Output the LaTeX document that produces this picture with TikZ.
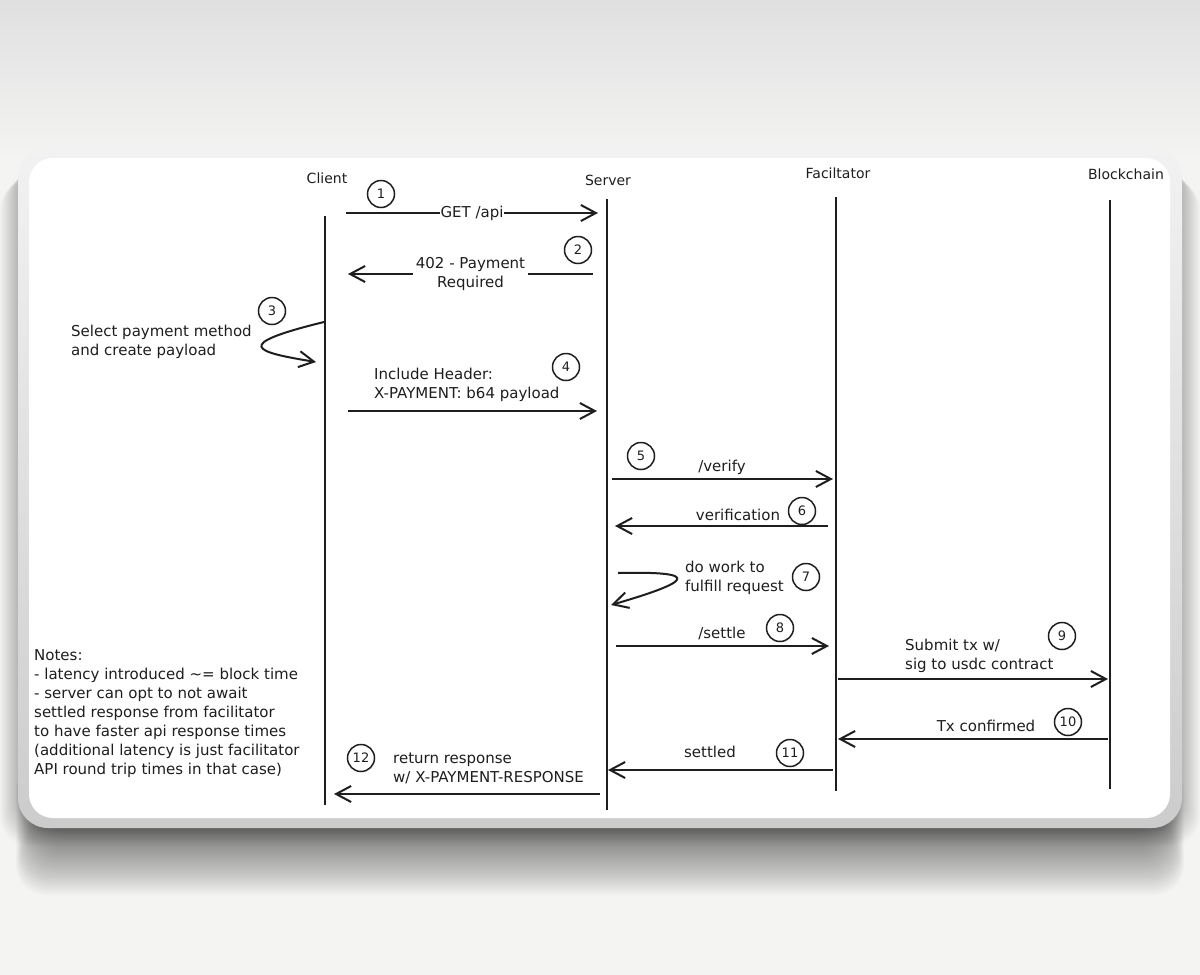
\documentclass[tikz,border=0pt]{standalone}
\usepackage{fontspec}
\setmainfont{DejaVu Sans}
\usepackage{xcolor}
\definecolor{inkblack}{RGB}{30,30,30}
\definecolor{bgtop}{RGB}{224,224,224}
\definecolor{bgbottom}{RGB}{244,244,243}
\definecolor{rimtop}{RGB}{242,242,242}
\definecolor{rimbottom}{RGB}{204,204,204}
\usepackage{tikz}
\usetikzlibrary{arrows.meta, positioning}

\tikzset{
  lifeline/.style={line width=2pt, inkblack},
  msg/.style={line width=2pt, inkblack, -{Straight Barb[length=15pt, width=16pt]}},
  stepnum/.style={circle, draw=inkblack, line width=1.5pt, minimum size=27pt,
                  inner sep=0pt, text=inkblack, font=\fontsize{13}{13}\selectfont},
  actor/.style={text=inkblack, inner sep=0pt, font=\fontsize{14}{14}\selectfont},
  lbl/.style={text=inkblack, inner sep=0pt, align=left, font=\fontsize{15}{19}\selectfont}
}

\begin{document}
\begin{tikzpicture}[x=1pt, y=-1pt]
  \useasboundingbox (0,0) rectangle (1200,975);
  % background and card
  \fill[bgbottom] (0,0) rectangle (1200,975);
  \shade[top color=bgtop, bottom color=bgbottom] (0,0) rectangle (1200,160);
  \foreach \i in {1,...,20}
    \fill[black, opacity=0.012, rounded corners=30]
      (18-\i*0.9,160+\i) rectangle (1182+\i*0.9,826+\i);
  \foreach \i in {1,...,30}
    \fill[black, opacity=0.02, rounded corners=30]
      (40-\i*0.8,760) rectangle (1160+\i*0.8,826+\i*2.3);
  \shade[top color=rimtop, bottom color=rimbottom, rounded corners=30]
    (18,147) rectangle (1182,828);
  \fill[white, rounded corners=24] (29,158) rectangle (1170,818);

  % actors
  \node[actor] (hClient) at (327,178) {Client};
  \node[actor] (hServer) at (608,180) {Server};
  \node[actor] (hFacil)  at (838,173) {Faciltator};
  \node[actor] (hChain)  at (1126,174) {Blockchain};

  \coordinate (cTop) at (325,216);  \coordinate (cBot) at (325,805);
  \coordinate (sTop) at (607,199);  \coordinate (sBot) at (607,810);
  \coordinate (fTop) at (836,197);  \coordinate (fBot) at (836,791);
  \coordinate (bTop) at (1110,200); \coordinate (bBot) at (1110,789);
  \draw[lifeline] (cTop) -- (cBot);
  \draw[lifeline] (sTop) -- (sBot);
  \draw[lifeline] (fTop) -- (fBot);
  \draw[lifeline] (bTop) -- (bBot);

  % 1
  \coordinate (m1a) at (346,213); \coordinate (m1b) at (598,213);
  \draw[msg] (m1a) -- node[fill=white, inner sep=1pt, text=inkblack,
    font=\fontsize{15}{19}\selectfont] (t1) {GET /api} (m1b);
  \node[stepnum] (n1) at (381,194) {1};
  % 2
  \coordinate (m2a) at (593,274); \coordinate (m2b) at (348,274);
  \draw[msg] (m2a) -- node[fill=white, inner sep=3pt, text=inkblack, align=center,
    font=\fontsize{15}{19}\selectfont] (t2) {402 - Payment\\Required} (m2b);
  \node[stepnum] (n2) at (578,250) {2};
  % 3
  \coordinate (m3a) at (324,322); \coordinate (m3b) at (316,362);
  \draw[msg] (m3a) .. controls (230,345) and (255,352) .. (m3b);
  \node[lbl, anchor=west] (t3) at (71,342) {Select payment method\\and create payload};
  \node[stepnum] (n3) at (272,311) {3};
  % 4
  \coordinate (m4a) at (348,411); \coordinate (m4b) at (597,411);
  \draw[msg] (m4a) -- (m4b);
  \node[lbl, anchor=west] (t4) at (374,385) {Include Header:\\X-PAYMENT: b64 payload};
  \node[stepnum] (n4) at (566,367) {4};
  % 5
  \coordinate (m5a) at (612,479); \coordinate (m5b) at (833,479);
  \draw[msg] (m5a) -- (m5b);
  \node[lbl] (t5) at (722,467) {/verify};
  \node[stepnum] (n5) at (641,456) {5};
  % 6
  \coordinate (m6a) at (828,526); \coordinate (m6b) at (615,526);
  \draw[msg] (m6a) -- (m6b);
  \node[lbl] (t6) at (738,515) {verification};
  \node[stepnum] (n6) at (802,511) {6};
  % 7
  \coordinate (m7a) at (618,573); \coordinate (m7b) at (611,605);
  \draw[msg] (m7a) .. controls (705,571) and (690,582) .. (m7b);
  \node[lbl, anchor=west] (t7) at (685,578) {do work to\\fulfill request};
  \node[stepnum] (n7) at (806,577) {7};
  % 8
  \coordinate (m8a) at (616,646); \coordinate (m8b) at (829,646);
  \draw[msg] (m8a) -- (m8b);
  \node[lbl] (t8) at (722,633) {/settle};
  \node[stepnum] (n8) at (780,628) {8};
  % 9
  \coordinate (m9a) at (838,679); \coordinate (m9b) at (1108,679);
  \draw[msg] (m9a) -- (m9b);
  \node[lbl, anchor=west] (t9) at (905,656) {Submit tx w/\\sig to usdc contract};
  \node[stepnum] (n9) at (1062,636) {9};
  % 10
  \coordinate (m10a) at (1108,739); \coordinate (m10b) at (838,739);
  \draw[msg] (m10a) -- (m10b);
  \node[lbl] (t10) at (986,726) {Tx confirmed};
  \node[stepnum] (n10) at (1068,722) {10};
  % 11
  \coordinate (m11a) at (833,770); \coordinate (m11b) at (608,770);
  \draw[msg] (m11a) -- (m11b);
  \node[lbl] (t11) at (710,752) {settled};
  \node[stepnum] (n11) at (790,753) {11};
  % 12
  \coordinate (m12a) at (600,794); \coordinate (m12b) at (334,794);
  \draw[msg] (m12a) -- (m12b);
  \node[lbl, anchor=west] (t12) at (393,768) {return response\\w/ X-PAYMENT-RESPONSE};
  \node[stepnum] (n12) at (361,758) {12};

  \node[lbl, anchor=west] (notes) at (34,714) {Notes:\\- latency introduced \textasciitilde= block time\\- server can opt to not await\\settled response from facilitator\\to have faster api response times\\(additional latency is just facilitator\\API round trip times in that case)};
\end{tikzpicture}
\end{document}
